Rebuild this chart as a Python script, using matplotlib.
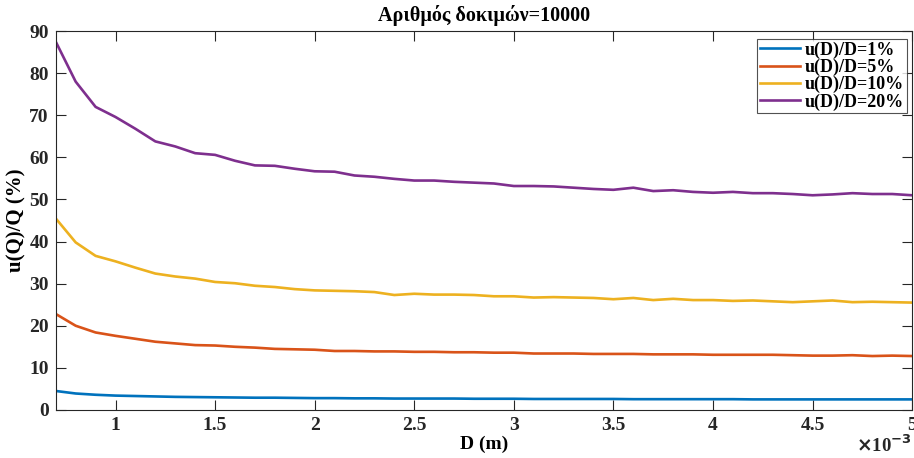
import numpy as np
import matplotlib
matplotlib.use("Agg")
import matplotlib.pyplot as plt
from matplotlib.ticker import FuncFormatter, MultipleLocator

# D σε m (0.7e-3 ... 5e-3)
D = np.round(np.arange(7, 51) * 1e-4, 6)

u_1 = [4.5, 3.9, 3.6, 3.4, 3.3, 3.2, 3.1, 3.05, 3.0, 2.95, 2.9, 2.9, 2.85, 2.8,
       2.8, 2.75, 2.75, 2.7, 2.7, 2.7, 2.7, 2.65, 2.65, 2.65, 2.6, 2.6, 2.6, 2.6,
       2.6, 2.55, 2.55, 2.55, 2.55, 2.55, 2.55, 2.5, 2.5, 2.5, 2.5, 2.5, 2.5, 2.5,
       2.5, 2.5]
u_5 = [22.8, 20.0, 18.4, 17.6, 16.9, 16.2, 15.8, 15.4, 15.3, 15.0, 14.8, 14.5,
       14.4, 14.3, 14.0, 14.0, 13.9, 13.9, 13.8, 13.8, 13.7, 13.7, 13.6, 13.6,
       13.4, 13.4, 13.4, 13.3, 13.3, 13.3, 13.2, 13.2, 13.2, 13.1, 13.1, 13.1,
       13.1, 13.0, 12.9, 12.9, 13.0, 12.8, 12.9, 12.8]
u_10 = [45.5, 39.8, 36.6, 35.3, 33.8, 32.4, 31.7, 31.2, 30.4, 30.1, 29.5, 29.2,
        28.7, 28.4, 28.3, 28.2, 28.0, 27.3, 27.6, 27.4, 27.4, 27.3, 27.0, 27.0,
        26.7, 26.8, 26.7, 26.6, 26.3, 26.6, 26.1, 26.4, 26.1, 26.1, 25.9, 26.0,
        25.8, 25.6, 25.8, 26.0, 25.6, 25.7, 25.6, 25.5]
u_20 = [87.5, 78.0, 72.0, 69.6, 66.8, 63.8, 62.6, 61.0, 60.6, 59.2, 58.1, 58.0,
        57.3, 56.7, 56.6, 55.7, 55.4, 54.9, 54.5, 54.5, 54.2, 54.0, 53.8, 53.2,
        53.2, 53.1, 52.8, 52.5, 52.3, 52.8, 52.0, 52.2, 51.8, 51.6, 51.8, 51.5,
        51.5, 51.3, 51.0, 51.2, 51.5, 51.3, 51.3, 51.0]

series = [
    ("u(D)/D=1%", u_1, "#0072BD"),
    ("u(D)/D=5%", u_5, "#D95319"),
    ("u(D)/D=10%", u_10, "#EDB120"),
    ("u(D)/D=20%", u_20, "#7E2F8E"),
]

plt.rcParams["font.family"] = ["Liberation Serif", "DejaVu Serif"]
plt.rcParams["font.weight"] = "bold"

fig = plt.figure(figsize=(9.14, 4.58), dpi=100)
ax = fig.add_axes([0.061, 0.105, 0.937, 0.827])

for label, vals, col in series:
    ax.plot(D, vals, color=col, linewidth=1.9, label=label)

ax.set_xlim(0.7e-3, 5e-3)
ax.set_ylim(0, 90)
ax.xaxis.set_major_locator(MultipleLocator(0.5e-3))
ax.yaxis.set_major_locator(MultipleLocator(10))
ax.xaxis.set_major_formatter(FuncFormatter(lambda v, p: f"{v * 1e3:g}"))
ax.tick_params(direction="in", top=True, right=True, length=7, width=0.8,
               labelsize=14, colors="#262626", pad=5)
for lab in ax.get_xticklabels() + ax.get_yticklabels():
    lab.set_fontweight("bold")
for sp in ax.spines.values():
    sp.set_color("#262626")
    sp.set_linewidth(0.8)

ax.set_title("Αριθμός δοκιμών=10000", fontsize=14.5, fontweight="bold", pad=7)
ax.set_xlabel("D (m)", fontsize=14, fontweight="bold", labelpad=1)
ax.set_ylabel("u(Q)/Q (%)", fontsize=15, fontweight="bold", labelpad=2)
fig.text(0.997, 0.005, r"$\times$10$^{-3}$", ha="right", va="bottom",
         fontsize=13.5, fontweight="bold", color="#262626")

leg = ax.legend(loc="upper right", fontsize=13, frameon=True, fancybox=False,
                borderpad=0.15, labelspacing=0.0, handlelength=2.2,
                handletextpad=0.3, borderaxespad=0.0,
                bbox_to_anchor=(0.994, 0.98))
leg.get_frame().set_edgecolor("#262626")
leg.get_frame().set_linewidth(0.8)
for t in leg.get_texts():
    t.set_fontweight("bold")

fig.savefig("out.png", dpi=100)
